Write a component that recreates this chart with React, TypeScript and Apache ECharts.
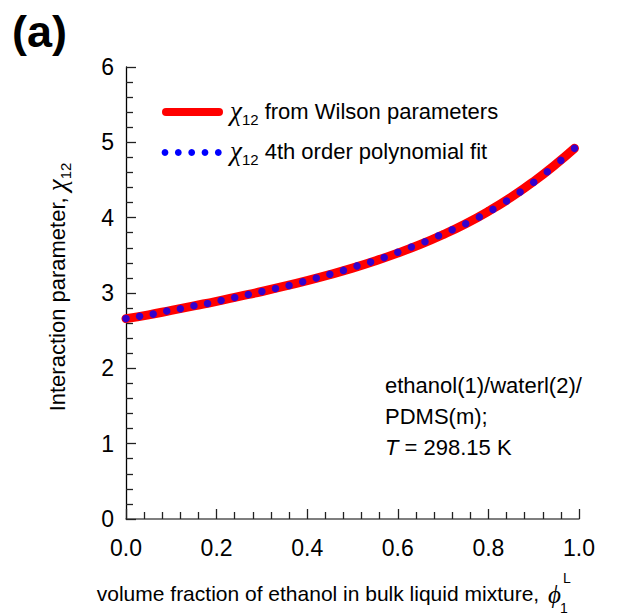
import React, { useEffect, useRef } from "react";
import * as echarts from "echarts";

// Wilson-parameter curve
const wilsonPhi = [0, 0.05, 0.1, 0.15, 0.2, 0.25, 0.3, 0.35, 0.4, 0.45, 0.5, 0.55, 0.6, 0.65, 0.7, 0.75, 0.8, 0.85, 0.9, 0.95, 0.99];
const wilsonChi = [2.66, 2.71, 2.77, 2.83, 2.89, 2.955, 3.02, 3.09, 3.165, 3.245, 3.33, 3.425, 3.53, 3.645, 3.775, 3.92, 4.085, 4.27, 4.48, 4.715, 4.92];

// 4th order polynomial fit (dots)
const fitPhi = [0, 0.03, 0.06, 0.09, 0.12, 0.15, 0.18, 0.21, 0.24, 0.27, 0.3, 0.33, 0.36, 0.39, 0.42, 0.45, 0.48, 0.51, 0.54, 0.57, 0.6, 0.63, 0.66, 0.69, 0.72, 0.75, 0.78, 0.81, 0.84, 0.87, 0.9, 0.93, 0.96, 0.99];
const fitChi = [2.66, 2.69, 2.72, 2.76, 2.79, 2.83, 2.86, 2.9, 2.94, 2.98, 3.02, 3.06, 3.1, 3.15, 3.2, 3.25, 3.3, 3.36, 3.41, 3.47, 3.54, 3.61, 3.68, 3.76, 3.84, 3.92, 4.01, 4.11, 4.22, 4.34, 4.47, 4.61, 4.76, 4.92];

const xTicks = [0, 0.2, 0.4, 0.6, 0.8, 1.0];
const yTicks = [0, 1, 2, 3, 4, 5, 6];

const SANS = "'Liberation Sans', Arial, sans-serif";
const SERIF = "'Liberation Serif', 'Times New Roman', serif";
const FS = 22;

export default function App() {
  const ref = useRef<HTMLDivElement>(null);
  useEffect(() => {
    if (!ref.current) return;
    const chart = echarts.init(ref.current, null, { renderer: "svg" });
    const chiRich = {
      n: { fontFamily: SANS, fontSize: FS, color: "#000", lineHeight: 32, verticalAlign: "middle" },
      c: { fontFamily: SERIF, fontStyle: "italic", fontSize: 27, color: "#000", lineHeight: 32, verticalAlign: "middle" },
      s: { fontFamily: SANS, fontSize: 15, color: "#000", lineHeight: 15, verticalAlign: "bottom" },
    };
    chart.setOption({
      animation: false,
      backgroundColor: "#fff",
      grid: { left: 126, right: 47, top: 67, bottom: 96, containLabel: false },
      xAxis: {
        type: "value",
        min: 0,
        max: 1,
        interval: 0.2,
        splitLine: { show: false },
        axisLine: { show: true, onZero: false, lineStyle: { color: "#555", width: 1.5 } },
        axisTick: { show: true, inside: true, length: 10, lineStyle: { color: "#222", width: 1.3 } },
        minorTick: { show: true, splitNumber: 5, length: 7, lineStyle: { color: "#222", width: 1.3 } },
        axisLabel: {
          fontFamily: SANS,
          fontSize: 23,
          color: "#000",
          margin: 17,
          formatter: (v: number) => (xTicks.includes(Math.round(v * 10) / 10) ? v.toFixed(1) : ""),
        },
      },
      yAxis: {
        type: "value",
        min: 0,
        max: 6,
        interval: 1,
        splitLine: { show: false },
        axisLine: { show: true, onZero: false, lineStyle: { color: "#000", width: 1.3 } },
        axisTick: { show: true, inside: true, length: 10, lineStyle: { color: "#222", width: 1.3 } },
        minorTick: { show: true, splitNumber: 5, length: 7, lineStyle: { color: "#222", width: 1.3 } },
        axisLabel: {
          fontFamily: SANS,
          fontSize: 23,
          color: "#000",
          margin: 12,
          formatter: (v: number) => (yTicks.includes(v) ? String(v) : ""),
        },
      },
      series: [
        {
          name: "wilson",
          type: "line",
          data: wilsonPhi.map((p, i) => [p, wilsonChi[i]]),
          smooth: 0.5,
          showSymbol: false,
          lineStyle: { color: "#ff0000", width: 9, cap: "round" },
          z: 2,
        },
        {
          name: "fit",
          type: "scatter",
          data: fitPhi.map((p, i) => [p, fitChi[i]]),
          symbol: "circle",
          symbolSize: 7.5,
          itemStyle: { color: "#0000ff" },
          z: 3,
        },
      ],
      graphic: [
        {
          type: "text",
          x: 12,
          y: 9,
          style: { text: "(a)", fontFamily: SANS, fontWeight: "bold", fontSize: 45, fill: "#000" },
        },
        // legend
        {
          type: "line",
          shape: { x1: 166, y1: 112, x2: 219, y2: 112 },
          style: { stroke: "#ff0000", lineWidth: 8, lineCap: "round" },
        },
        ...[165, 178.3, 191.7, 205, 218.3].map((x) => ({
          type: "circle",
          shape: { cx: x, cy: 152.5, r: 3.4 },
          style: { fill: "#0000ff" },
        })),
        {
          type: "text",
          x: 230,
          y: 111,
          style: {
            text: "{c|χ}{s|12}{n| from Wilson parameters}",
            verticalAlign: "middle",
            rich: chiRich,
          },
        },
        {
          type: "text",
          x: 230,
          y: 151,
          style: {
            text: "{c|χ}{s|12}{n| 4th order polynomial fit}",
            verticalAlign: "middle",
            rich: chiRich,
          },
        },
        // annotation
        {
          type: "text",
          x: 385,
          y: 385,
          style: { text: "ethanol(1)/waterl(2)/", fontFamily: SANS, fontSize: FS, fill: "#000", verticalAlign: "middle" },
        },
        {
          type: "text",
          x: 385,
          y: 416,
          style: { text: "PDMS(m);", fontFamily: SANS, fontSize: FS, fill: "#000", verticalAlign: "middle" },
        },
        {
          type: "text",
          x: 385,
          y: 447,
          style: {
            text: "{i|T}{n| = 298.15 K}",
            verticalAlign: "middle",
            rich: {
              i: { fontFamily: SANS, fontStyle: "italic", fontSize: FS, color: "#000" },
              n: { fontFamily: SANS, fontSize: FS, color: "#000" },
            },
          },
        },
        // y axis name
        {
          type: "text",
          x: 57,
          y: 287,
          rotation: Math.PI / 2,
          style: {
            text: "{n|Interaction parameter, }{c|χ}{s|12}",
            align: "center",
            verticalAlign: "middle",
            rich: chiRich,
          },
        },
        // x axis name
        {
          type: "text",
          x: 545,
          y: 593,
          style: {
            text: "volume fraction of ethanol in bulk liquid mixture, ",
            align: "right",
            verticalAlign: "middle",
            fontFamily: SANS,
            fontSize: 21,
            fill: "#000",
          },
        },
        {
          type: "text",
          x: 548,
          y: 594,
          style: { text: "ϕ", fontFamily: SERIF, fontStyle: "italic", fontSize: 25, fill: "#000", verticalAlign: "middle" },
        },
        {
          type: "text",
          x: 560,
          y: 608,
          style: { text: "1", fontFamily: SANS, fontSize: 14, fill: "#000", verticalAlign: "middle" },
        },
        {
          type: "text",
          x: 563,
          y: 578,
          style: { text: "L", fontFamily: SANS, fontSize: 14, fill: "#000", verticalAlign: "middle" },
        },
      ],
    });
    return () => chart.dispose();
  }, []);
  return <div ref={ref} style={{ width: 626, height: 615, position: "absolute", left: 0, top: 0 }} />;
}
